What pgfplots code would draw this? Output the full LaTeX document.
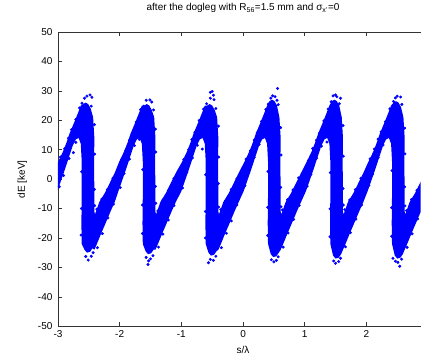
\documentclass[border=0pt]{standalone}
\usepackage{fontspec}
\setmainfont{Liberation Sans}
\usepackage{pgfplots}
\pgfplotsset{compat=1.18}

\begin{document}
\begin{tikzpicture}
\begin{axis}[
  name=ax,
  scale only axis, width=363pt, height=294.5pt,
  xmin=-3, xmax=2.88, ymin=-50, ymax=50,
  axis x line=box, axis y line*=left,
  xtick={-3,-2,-1,0,1,2}, ytick={-50,-40,...,50},
  tick align=inside, major tick length=4.5pt,
  axis line style={black!80, line width=0.6pt, -},
  tick style={black!80, line width=0.6pt},
  ticklabel style={font=\fontsize{10}{12}\selectfont},
  yticklabel style={xshift=-2pt},
  xticklabel style={yshift=-1pt},
  /pgf/number format/assume math mode=true,
  xlabel={s/λ}, ylabel={dE [keV]},
  label style={font=\fontsize{10}{12}\selectfont},
  xlabel style={at={(axis description cs:0.5102,0)}, anchor=center, yshift=-24pt},
  ylabel style={at={(axis description cs:-0.098,0.5)}, anchor=center},
  title={after the dogleg with R\textsubscript{56}=1.5 mm and σ\textsubscript{x'}=0},
  title style={font=\fontsize{10}{12}\selectfont, at={(axis description cs:0.5102,1)}, anchor=center, yshift=18pt},
]
% dense core of the longitudinal phase space (sawtooth band)
\addplot [fill=blue, draw=none] coordinates {
(-3.05,4)
(-3.00,5.8) (-2.92,9.3) (-2.86,12.5) (-2.81,15.6) (-2.74,19.1) (-2.675,22.5) (-2.63,25) (-2.59,25.5) (-2.55,26) (-2.51,25.5) (-2.47,24) (-2.43,21) (-2.41,14) (-2.415,5) (-2.41,-4) (-2.41,-11) (-2.40,-12) (-2.33,-7.8) (-2.24,-4.7) (-2.16,-1.3) (-2.08,2.1)
(-2.01,5.8) (-1.93,9.3) (-1.87,12.5) (-1.82,15.6) (-1.75,19.1) (-1.685,22.5) (-1.64,25) (-1.60,25) (-1.56,25.5) (-1.52,25) (-1.48,23.5) (-1.44,21) (-1.42,14) (-1.425,5) (-1.42,-4) (-1.42,-11) (-1.41,-12) (-1.34,-7.8) (-1.25,-4.7) (-1.17,-1.3) (-1.09,2.1)
(-0.99,5.8) (-0.91,9.3) (-0.85,12.5) (-0.80,15.6) (-0.73,19.1) (-0.665,22.5) (-0.62,25) (-0.58,25) (-0.54,25.5) (-0.50,25) (-0.46,23.5) (-0.42,21) (-0.40,14) (-0.405,5) (-0.40,-4) (-0.40,-11) (-0.39,-12) (-0.32,-7.8) (-0.23,-4.7) (-0.15,-1.3) (-0.07,2.1)
(0.02,5.8) (0.10,9.3) (0.16,12.5) (0.21,15.6) (0.28,19.1) (0.345,22.5) (0.39,25) (0.43,26.5) (0.47,27) (0.51,26.5) (0.55,25) (0.59,21) (0.61,14) (0.605,5) (0.61,-4) (0.61,-11) (0.62,-12) (0.69,-7.8) (0.78,-4.7) (0.86,-1.3) (0.94,2.1)
(1.03,5.8) (1.11,9.3) (1.17,12.5) (1.22,15.6) (1.29,19.1) (1.355,22.5) (1.40,25) (1.44,26.5) (1.48,27) (1.52,26.5) (1.56,25) (1.60,21) (1.62,14) (1.615,5) (1.62,-4) (1.62,-11) (1.63,-12) (1.70,-7.8) (1.79,-4.7) (1.87,-1.3) (1.95,2.1)
(2.03,5.8) (2.11,9.3) (2.17,12.5) (2.22,15.6) (2.29,19.1) (2.355,22.5) (2.40,25) (2.44,26) (2.48,26.5) (2.52,26) (2.56,24.5) (2.60,21) (2.62,14) (2.615,5) (2.62,-4) (2.62,-11) (2.63,-12) (2.70,-7.8) (2.79,-4.7) (2.87,-1.3) (2.95,2.1)
(3.05,6.5)
(3.05,-3)
(2.95,-7.8) (2.88,-11.1) (2.81,-14.6) (2.73,-18.5) (2.65,-22.6) (2.62,-24) (2.59,-25.5) (2.55,-26.7) (2.50,-27) (2.46,-26) (2.415,-22) (2.41,-15) (2.415,-6) (2.415,6) (2.40,12) (2.365,14) (2.32,13.5) (2.27,11.4) (2.19,6.3) (2.14,3.1) (2.08,-0.5) (2.02,-4.1)
(1.95,-7.8) (1.88,-11.1) (1.81,-14.6) (1.73,-18.5) (1.65,-22.6) (1.62,-24) (1.59,-25.5) (1.55,-26.7) (1.50,-27) (1.46,-26) (1.415,-22) (1.41,-15) (1.415,-6) (1.415,6) (1.40,12) (1.365,14) (1.32,13.5) (1.27,11.4) (1.19,6.3) (1.14,3.1) (1.08,-0.5) (1.02,-4.1)
(0.94,-7.8) (0.87,-11.1) (0.80,-14.6) (0.72,-18.5) (0.64,-22.6) (0.61,-24) (0.58,-25) (0.54,-26.2) (0.49,-26.5) (0.45,-25.5) (0.405,-22) (0.40,-15) (0.405,-6) (0.405,6) (0.39,12) (0.355,14) (0.31,13.5) (0.26,11.4) (0.18,6.3) (0.13,3.1) (0.07,-0.5) (0.01,-4.1)
(-0.07,-7.8) (-0.14,-11.1) (-0.21,-14.6) (-0.29,-18.5) (-0.37,-22.6) (-0.40,-24) (-0.43,-24.5) (-0.47,-25.7) (-0.52,-26) (-0.56,-25) (-0.605,-22) (-0.61,-15) (-0.605,-6) (-0.605,6) (-0.62,12) (-0.655,14) (-0.70,13.5) (-0.75,11.4) (-0.83,6.3) (-0.88,3.1) (-0.94,-0.5) (-1.00,-4.1)
(-1.09,-7.8) (-1.16,-11.1) (-1.23,-14.6) (-1.31,-18.5) (-1.39,-22.6) (-1.42,-24) (-1.45,-24) (-1.49,-25.2) (-1.54,-25.5) (-1.58,-24.5) (-1.625,-22) (-1.63,-15) (-1.625,-6) (-1.625,6) (-1.64,12) (-1.675,14) (-1.72,13.5) (-1.77,11.4) (-1.85,6.3) (-1.90,3.1) (-1.96,-0.5) (-2.02,-4.1)
(-2.08,-7.8) (-2.15,-11.1) (-2.22,-14.6) (-2.30,-18.5) (-2.38,-22.6) (-2.41,-24) (-2.44,-23.5) (-2.48,-24.7) (-2.53,-25) (-2.57,-24) (-2.615,-22) (-2.62,-15) (-2.615,-6) (-2.615,6) (-2.63,12) (-2.665,14) (-2.71,13.5) (-2.76,11.4) (-2.84,6.3) (-2.89,3.1) (-2.95,-0.5) (-3.01,-4.1)
(-3.05,-6)
} --cycle;
% individual macro-particles around the edges of the band
\addplot [only marks, mark=*, mark size=1.3pt, blue, mark options={draw=blue, fill=blue}] coordinates {
(-2.57,27.5) (-2.53,28.2) (-2.48,28.6) (-2.45,27.8) (-2.61,25.8) (-2.46,24.8)
(-2.96,7.5) (-2.89,10.3) (-2.78,16.8) (-2.71,20.3) (-2.65,24.2) (-2.83,13.9)
(-2.98,-2.6) (-2.91,1.2) (-2.82,7.0) (-2.75,9.0) (-2.71,12.5) (-2.64,14.8)
(-2.41,18.5) (-2.405,8.5) (-2.41,-3.5) (-2.405,-9)
(-2.615,2.5) (-2.62,-10) (-2.625,-19)
(-2.55,-26.3) (-2.51,-27.5) (-2.46,-26.2) (-2.43,-25)
(-2.36,-23.3) (-2.28,-18.5) (-2.19,-13.2) (-2.10,-8.5)
(-2.37,-10.2) (-2.29,-6.8) (-2.20,-3.6) (-2.11,0.3)
(-1.57,26.8) (-1.51,26.9) (-1.48,26.2) (-1.61,24.8) (-1.45,23.5)
(-1.97,6.5) (-1.90,9.8) (-1.79,15.7) (-1.73,19.4) (-1.66,23.6) (-1.84,13.2)
(-1.99,-2.9) (-1.93,1.9) (-1.84,6.8) (-1.76,11.4) (-1.68,13.5)
(-1.42,17) (-1.415,9.2) (-1.42,-2.5) (-1.415,-8.2)
(-1.625,3.2) (-1.63,-8.8) (-1.63,-18.5)
(-1.57,-26.6) (-1.54,-29) (-1.50,-27.1) (-1.46,-26) (-1.53,-27.8)
(-1.37,-23.1) (-1.30,-18.7) (-1.21,-13.9) (-1.12,-9.0)
(-1.38,-10.8) (-1.30,-7.1) (-1.21,-3.9) (-1.12,0.2)
(-0.53,29.5) (-0.50,29.8) (-0.48,28.5) (-0.53,27.5) (-0.47,27) (-0.59,25.6) (-0.44,24)
(-0.96,6.7) (-0.88,10.1) (-0.78,15.9) (-0.71,19.9) (-0.64,23.8) (-0.83,13.4)
(-0.98,-3.0) (-0.91,2.4) (-0.82,7.2) (-0.74,11.5) (-0.66,10.2) (-0.67,14.6)
(-0.40,18) (-0.395,7.5) (-0.40,-1.5) (-0.395,-9.5)
(-0.605,1.5) (-0.61,-11) (-0.61,-20)
(-0.56,-28.4) (-0.53,-27.3) (-0.48,-27.6) (-0.44,-26.2)
(-0.35,-23.3) (-0.27,-18.4) (-0.19,-14.2) (-0.10,-8.8)
(-0.36,-10.4) (-0.28,-7.3) (-0.19,-3.5) (-0.10,0.1)
(0.56,30.8) (0.45,27.5) (0.48,28.3) (0.52,28.0) (0.55,26.8) (0.41,25.5) (0.57,25.3)
(0.05,6.8) (0.12,9.6) (0.23,15.8) (0.30,19.6) (0.37,23.7) (0.18,13.3)
(0.03,-2.2) (0.09,2.1) (0.18,7.4) (0.26,11.8) (0.34,14.8)
(0.61,17.5) (0.615,8.2) (0.61,-2.8) (0.615,-9.4)
(0.405,2.6) (0.40,-9.6) (0.40,-19.2)
(0.46,-27.4) (0.50,-28.1) (0.54,-27.6) (0.57,-26.4)
(0.65,-23.1) (0.73,-18.3) (0.82,-13.7) (0.91,-8.9)
(0.64,-10.5) (0.72,-7.0) (0.81,-3.7) (0.90,0.4)
(1.46,28.3) (1.50,28.6) (1.58,27.5) (1.43,26.3) (1.56,25.6) (1.52,28.0)
(1.06,6.3) (1.13,10.4) (1.24,15.6) (1.31,19.8) (1.38,23.8) (1.19,13.2)
(1.04,-2.4) (1.10,1.6) (1.19,7.1) (1.27,11.2) (1.35,14.9) (1.36,12.6)
(1.62,18.2) (1.625,7.8) (1.62,-3.2) (1.625,-8.8)
(1.415,2.2) (1.41,-10.1) (1.41,-19.6)
(1.47,-27.8) (1.50,-28.6) (1.55,-28.0) (1.58,-26.9)
(1.66,-23.0) (1.74,-18.2) (1.83,-13.6) (1.92,-8.8)
(1.65,-10.4) (1.73,-7.1) (1.82,-3.6) (1.91,0.3)
(2.555,27.9) (2.47,27.6) (2.50,28.2) (2.44,26.4) (2.575,25.4)
(2.06,6.9) (2.13,10.2) (2.24,16.1) (2.31,19.5) (2.38,23.9) (2.19,13.6)
(2.04,-2.1) (2.10,1.7) (2.19,7.3) (2.27,11.6) (2.35,14.7)
(2.62,17.3) (2.625,8.6) (2.62,-2.6) (2.625,-9.1)
(2.415,2.9) (2.41,-9.7) (2.41,-19.4)
(2.43,-26.9) (2.47,-27.9) (2.54,-29.6) (2.51,-28.3) (2.57,-27.2)
(2.66,-23.2) (2.74,-18.6) (2.83,-13.5)
(2.65,-10.7) (2.73,-6.9) (2.82,-3.8)
};
\end{axis}
% white margin round the axes
\path ([xshift=-58pt,yshift=-29.5pt]ax.south west) rectangle ([yshift=32pt]ax.north east);
\end{tikzpicture}
\end{document}
